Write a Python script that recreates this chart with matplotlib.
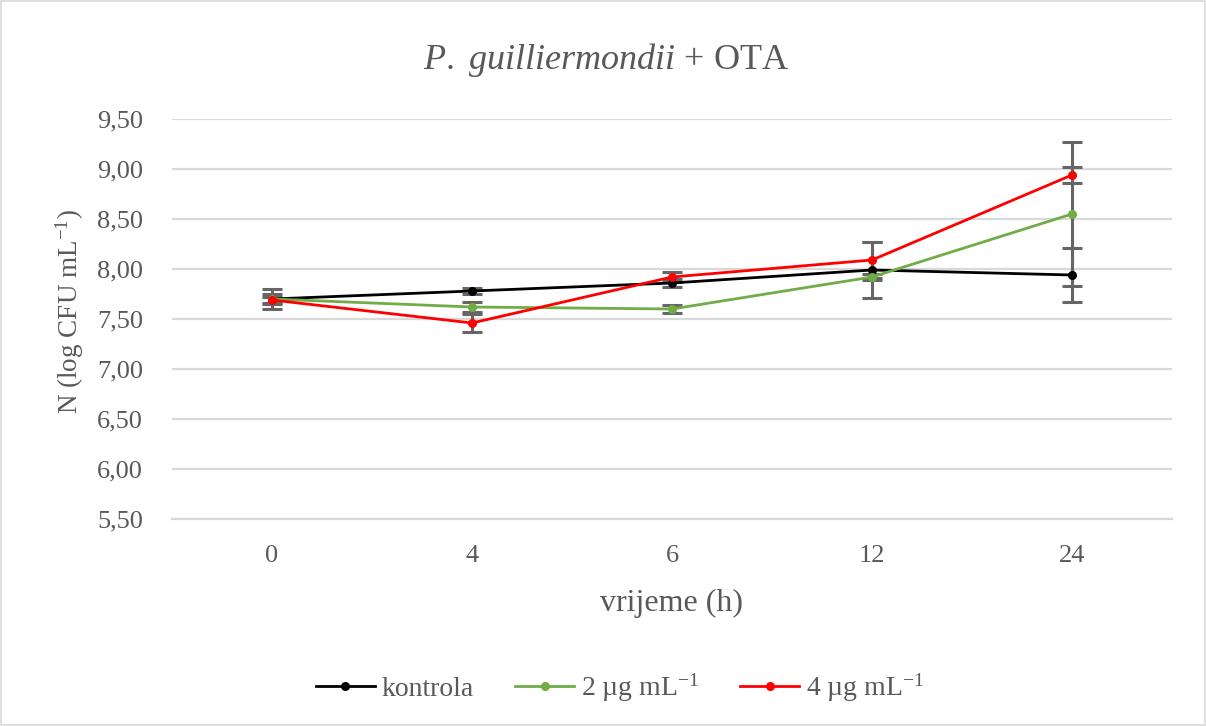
import matplotlib
matplotlib.use("Agg")
import matplotlib.pyplot as plt
from matplotlib.patches import Rectangle

plt.rcParams['font.family'] = ['Liberation Serif', 'DejaVu Serif']
plt.rcParams['mathtext.fontset'] = 'custom'
plt.rcParams['mathtext.rm'] = 'Liberation Serif'
plt.rcParams['mathtext.it'] = 'Liberation Serif:italic'
plt.rcParams['mathtext.bf'] = 'Liberation Serif:bold'

categories = ['0', '4', '6', '12', '24']
kontrola = [7.70, 7.78, 7.86, 7.99, 7.94]
kontrola_err = [0.10, 0.025, 0.04, 0.28, 0.27]
dose2 = [7.70, 7.62, 7.60, 7.92, 8.55]
dose2_err = [0.05, 0.05, 0.04, 0.03, 0.72]
dose4 = [7.69, 7.46, 7.92, 8.09, 8.94]
dose4_err = [0.03, 0.09, 0.05, 0.18, 0.08]

labels = ['kontrola', r'2 µg mL$^{-1}$', r'4 µg mL$^{-1}$']
colors = ['#000000', '#70ad47', '#ff0000']
text_color = '#595959'

W, H = 1206, 726
fig = plt.figure(figsize=(W/100, H/100), dpi=100)
fig.patches.append(Rectangle((0.001, 0.001), 0.998, 0.997, transform=fig.transFigure,
                             fill=False, edgecolor='#d9d9d9', linewidth=1.2))
ax = fig.add_axes([172/W, 1-519/H, 1000/W, 400/H])

x = list(range(len(categories)))
series = [(kontrola, kontrola_err), (dose2, dose2_err), (dose4, dose4_err)]
for (vals, errs) in series:
    ax.errorbar(x, vals, yerr=errs, fmt='none', ecolor='#666666', elinewidth=2.2,
                capsize=7, capthick=2.2, zorder=3)
for (vals, errs), lab, col in zip(series, labels, colors):
    ax.plot(x, vals, color=col, linewidth=2.0, marker='o', markersize=5.5,
            label=lab, zorder=4)

ax.set_xlim(-0.5, 4.5)
ax.set_ylim(5.5, 9.5)
ax.set_xticks(x)
ax.set_xticklabels(categories)
yt = [5.5 + 0.5*i for i in range(9)]
ax.set_yticks(yt)
ax.set_yticklabels([f'{v:.2f}'.replace('.', ',') for v in yt])
ax.grid(axis='y', color='#d9d9d9', linewidth=1.6)
ax.set_axisbelow(True)
for s in ['top', 'right', 'left']:
    ax.spines[s].set_visible(False)
ax.spines['bottom'].set_color('#d9d9d9')
ax.spines['bottom'].set_linewidth(1.6)
ax.tick_params(axis='both', length=0, labelsize=19, labelcolor=text_color)
ax.tick_params(axis='y', pad=21)
ax.tick_params(axis='x', pad=19)

fig.text(672/W, 1-603/H, 'vrijeme (h)', fontsize=23, color=text_color,
         ha='center', va='center')
fig.text(70/W, 1-312/H, r'N (log CFU mL$^{-1}$)', fontsize=19.5, color=text_color,
         ha='center', va='center', rotation=90)
fig.text(606/W, 1-60/H, r'$\mathit{P.\ guilliermondii}$ + OTA', fontsize=26,
         color=text_color, ha='center', va='center')

leg = fig.legend(loc='center', bbox_to_anchor=(620/W, 1-688/H), ncol=3,
                 frameon=False, fontsize=20, handlelength=2.1, columnspacing=1.5,
                 handletextpad=0.25)
for t in leg.get_texts():
    t.set_color(text_color)

fig.savefig('out.png', dpi=100, facecolor='white')
